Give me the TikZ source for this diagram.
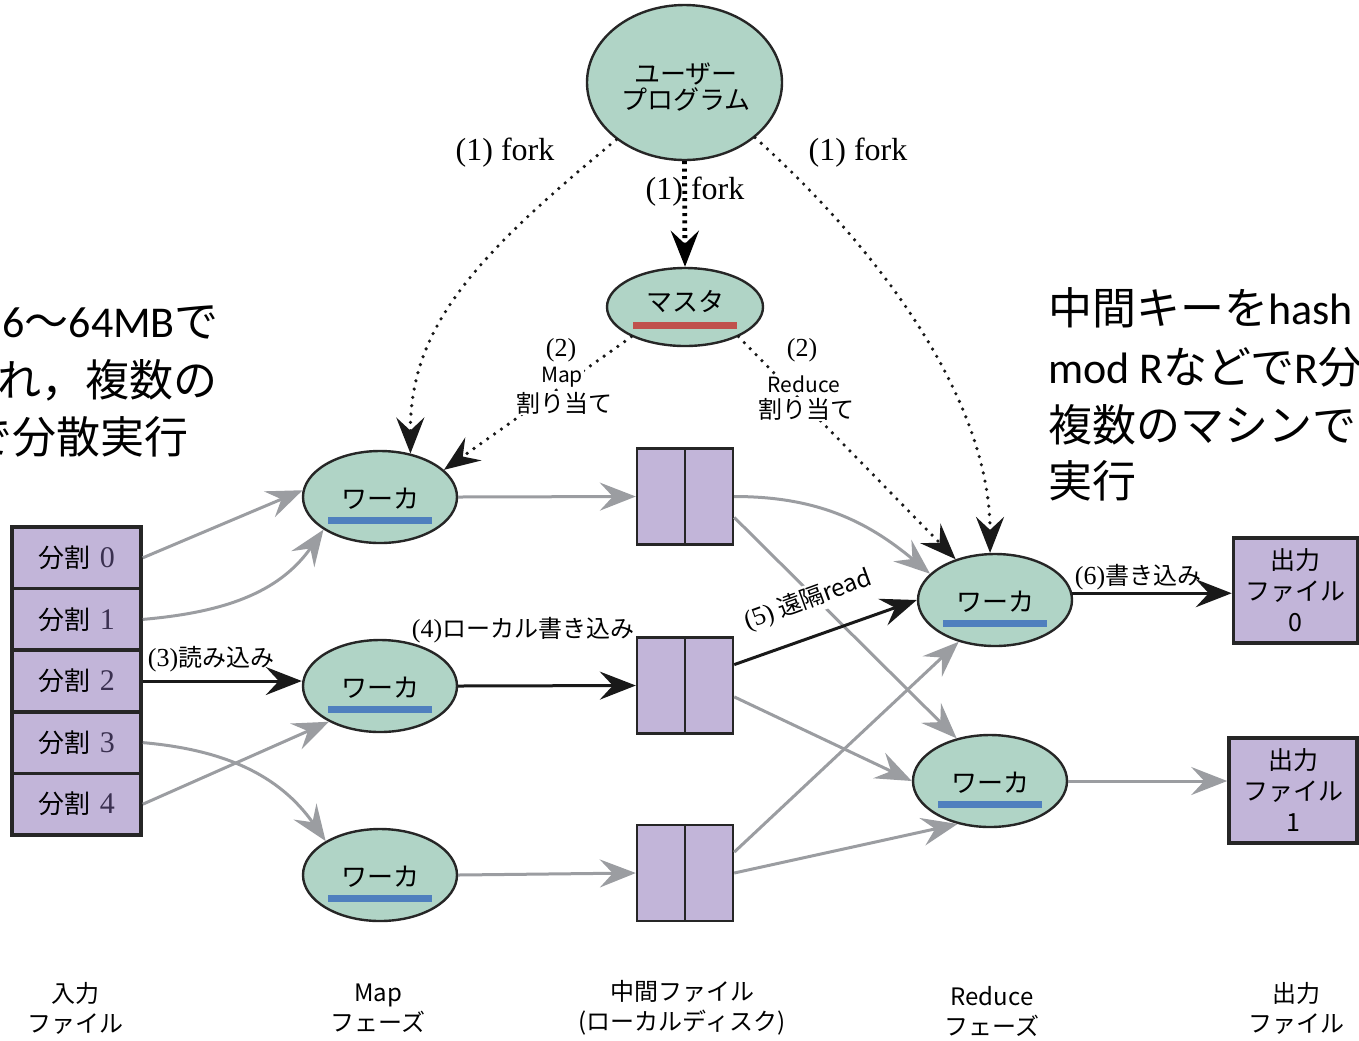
\documentclass[tikz,border=0pt]{standalone}
\usepackage{fontspec}
\setmainfont{Noto Sans CJK JP}
\newfontfamily\ser{Liberation Serif}
\newfontfamily\lat{Carlito}
\usetikzlibrary{arrows.meta,shapes.geometric}
\definecolor{ellfill}{HTML}{B0D4C6}
\definecolor{boxfill}{HTML}{C2B5D9}
\definecolor{arrgray}{HTML}{9B9DA1}
\definecolor{bluebar}{HTML}{4F7FBE}
\definecolor{redbar}{HTML}{C0504D}
\definecolor{numcol}{HTML}{3A3050}
\newcommand\myfs[2]{\fontsize{#1}{#2}\selectfont}
\begin{document}
\begin{tikzpicture}[x=0.5pt,y=-0.5pt,
  ell/.style={ellipse, draw=black!85, line width=1.2pt, fill=ellfill, inner sep=0pt},
  workerell/.style={ell, minimum width=77pt, minimum height=46pt},
  wtext/.style={font=\myfs{13pt}{15pt}, inner sep=0pt},
  barblue/.style={draw=bluebar, line width=3.5pt},
  barred/.style={draw=redbar, line width=3.5pt},
  splitbox/.style={rectangle, draw=black!85, line width=1.8pt, fill=boxfill, minimum width=64.5pt, minimum height=30.8pt, inner sep=0pt, font=\myfs{13pt}{15pt}},
  interbox/.style={rectangle, draw=black!85, line width=1.2pt, fill=boxfill, minimum width=48pt, minimum height=48pt, inner sep=0pt},
  outbox/.style={rectangle, draw=black!85, line width=1.8pt, fill=boxfill, minimum height=52.5pt, inner sep=0pt, align=center, font=\myfs{12.5pt}{15.5pt}},
  tipst/.style={-{Stealth[length=18pt,width=14pt,inset=6.5pt]}},
  garrow/.style={draw=arrgray, line width=1.5pt, tipst},
  barrow/.style={draw=black!90, line width=1.5pt, tipst},
  dotarrow/.style={draw=black!90, line width=1.8pt, line cap=round, dash pattern=on 0pt off 4.2pt, tipst},
  dotthick/.style={draw=black, line width=2.4pt, dash pattern=on 1.5pt off 2.2pt, tipst},
  lbl/.style={font=\myfs{12pt}{14pt}, inner sep=1pt},
  wlbl/.style={lbl, fill=white},
  forklbl/.style={font=\ser\myfs{16pt}{18pt}, inner sep=0pt},
  bottomlbl/.style={font=\myfs{12pt}{15pt}, align=center, inner sep=0pt},
  bigtxt/.style={font=\myfs{22pt}{29pt}, inner sep=0pt, anchor=west}
]
\useasboundingbox (0,0) rectangle (1359,1040);
\begin{scope}
\clip (0,0) rectangle (1359,1040);

% explanatory texts
\node[bigtxt] (lt1) at (2,322) {{\lat 6}〜{\lat 64MB}で};
\node[bigtxt] (lt2) at (-47,380) {され，複数の};
\node[bigtxt] (lt3) at (-32,437) {で分散実行};
\node[bigtxt] (rt1) at (1048,308) {中間キーを{\lat hash}};
\node[bigtxt] (rt2) at (1048,367) {{\lat mod R}などで{\lat R}分};
\node[bigtxt] (rt3) at (1048,425) {複数のマシンで};
\node[bigtxt] (rt4) at (1048,481) {実行};

% user program and master
\node[ell, minimum width=97.5pt, minimum height=77.5pt] (user) at (684.5,82.5) {};
\node[wtext, align=center, font=\myfs{13pt}{13pt}] (usert) at (686,87) {ユーザー\\プログラム};
\node[ell, minimum width=78pt, minimum height=39pt] (master) at (685,307) {};
\node[wtext] (mastert) at (685,301) {マスタ};
\draw[barred] ([xshift=-26pt,yshift=-9pt]master.center) coordinate (rb1) -- ([xshift=26pt,yshift=-9pt]master.center) coordinate (rb2);

% workers
\foreach \n/\x/\y in {mw1/380/497, mw2/380/686, mw3/380/875, rw1/995/600, rw2/990/781} {
  \node[workerell] (\n) at (\x,\y) {};
  \node[wtext] (\n t) at ([yshift=-1pt]\n.center) {ワーカ};
  \draw[barblue] ([xshift=-26pt,yshift=-11.5pt]\n.center) -- ([xshift=26pt,yshift=-11.5pt]\n.center);
}

% input splits
\foreach \i/\y in {0/557.8, 1/619.4, 2/681, 3/742.6, 4/804.2} {
  \node[splitbox] (s\i) at (76.5,\y) {分割\hspace{5pt}{\ser\color{numcol}\myfs{15pt}{15pt}\i}};
}

% intermediate files
\foreach \n/\y in {i1/496.5, i2/685.5, i3/873} {
  \node[interbox] (\n) at (685,\y) {};
  \draw[black!85, line width=1.2pt] (\n.north) -- (\n.south);
}

% output files
\node[outbox, minimum width=62pt] (o0) at (1295.5,590.5) {出力\\ファイル\\0};
\node[outbox, minimum width=64pt] (o1) at (1293,790.5) {出力\\ファイル\\1};

% gray connectors
\draw[garrow] (s0.east) -- (mw1.175);
\draw[garrow] (s1.east) to[out=5,in=235] (mw1.210);
\draw[garrow] (s3.east) to[out=-5,in=125] (mw3.148);
\draw[garrow] (s4.east) -- (mw2.215);
\draw[garrow] (mw1.east) -- (i1.west);
\draw[garrow] (mw3.east) -- (i3.west);
\draw[garrow] (i1.east) to[out=0,in=140] (rw1.158);
\draw[garrow] (i1.-23) -- (rw2.128);
\draw[garrow] (i2.-13) -- (rw2.west);
\draw[garrow] (i3.23) -- (rw1.229);
\draw[garrow] (i3.east) -- (rw2.233);
\draw[garrow] (rw2.east) -- (rw2.east -| o1.west);

% labels on connectors
\node[wlbl, rotate=20] (l5) at (808,600) {{\ser\myfs{13pt}{14pt}(5)} 遠隔read};
\node[lbl] (l3) at (211,659) {{\ser\myfs{13pt}{14pt}(3)}読み込み};
\node[lbl] (l4) at (523,630) {{\ser\myfs{13pt}{14pt}(4)}ローカル書き込み};
\node[lbl] (l6) at (1138,577) {{\ser\myfs{13pt}{14pt}(6)}書き込み};

% black connectors
\draw[barrow] (s2.east) -- (s2.east -| mw2.west);
\draw[barrow] (mw2.east) -- (i2.west);
\draw[barrow] (i2.23) -- (rw1.west);
\draw[barrow] (rw1.5) -- (rw1.5 -| o0.west);

% dotted fork / assign
\draw[dotarrow] (user.220) .. controls (470,260) and (410,330) .. (mw1.55);
\draw[dotarrow] (user.-38) .. controls (880,250) and (990,400) .. (rw1.96);
\draw[dotthick] (user.south) -- (master.north);
\draw[dotarrow] (master.209) -- (mw1.23);
\draw[dotarrow] (master.-29) -- (rw1.134);

\node[forklbl] (f1) at (505,153) {(1) fork};
\node[forklbl] (f2) at (858,153) {(1) fork};
\node[forklbl] (f3) at (695,192) {(1)\hspace{4pt}fork};

\node[wlbl, inner sep=0.5pt] (m2a) at (561,350) {{\ser\myfs{13pt}{14pt}(2)}};
\node[wlbl, inner sep=0.5pt, font=\myfs{10.5pt}{12pt}] (m2b) at (562,377) {Map};
\node[wlbl, inner sep=0.5pt] (m2c) at (564,403) {割り当て};
\node[wlbl, inner sep=0.5pt] (r2a) at (802,350) {{\ser\myfs{13pt}{14pt}(2)}};
\node[wlbl, inner sep=0.5pt, font=\myfs{10.5pt}{12pt}] (r2b) at (804,384) {Reduce};
\node[wlbl, inner sep=0.5pt] (r2c) at (806,409) {割り当て};

% bottom captions
\node[bottomlbl] (b1) at (75,1008) {入力\\ファイル};
\node[bottomlbl] (b2) at (378,1008) {Map\\フェーズ};
\node[bottomlbl] (b3) at (682,1008) {中間ファイル\\(ローカルディスク)};
\node[bottomlbl] (b4) at (992,1011) {Reduce\\フェーズ};
\node[bottomlbl] (b5) at (1296,1008) {出力\\ファイル};
\end{scope}
\end{tikzpicture}
\end{document}
